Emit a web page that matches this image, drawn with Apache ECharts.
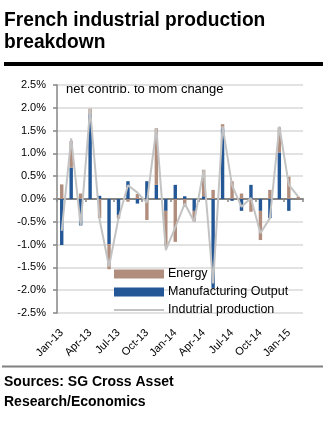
<!DOCTYPE html>
<html>
<head>
<meta charset="utf-8">
<script src="https://cdn.jsdelivr.net/npm/echarts@6/dist/echarts.min.js"></script>
<style>
html,body{margin:0;padding:0;background:#fff;}
#c{width:327px;height:428px;}
</style>
</head>
<body>
<div id="c"></div>
<script>
var months = ['Jan-13','Feb-13','Mar-13','Apr-13','May-13','Jun-13','Jul-13','Aug-13','Sep-13','Oct-13','Nov-13','Dec-13',
  'Jan-14','Feb-14','Mar-14','Apr-14','May-14','Jun-14','Jul-14','Aug-14','Sep-14','Oct-14','Nov-14','Dec-14',
  'Jan-15','Feb-15'];
var energy = [0.32,0.58,0.12,0.12,-0.42,-0.55,-0.08,-0.06,0.11,-0.46,1.24,-0.77,
  -0.94,-0.17,-0.23,0.58,0.20,0.09,0.39,0.12,-0.28,-0.64,0.20,0.55,
  0.49,0.05];
var manufacturing = [-1.01,0.69,-0.58,1.86,0.07,-0.99,-0.35,0.39,-0.10,0.39,0.31,-0.26,
  0.31,0.06,-0.26,0.06,-1.95,1.55,-0.04,-0.26,0.31,-0.26,-0.42,1.02,
  -0.26,0.00];
var industrial = [-0.70,1.33,-0.58,1.97,-0.45,-1.48,-0.42,0.30,0.14,-0.08,1.55,-1.12,
  -0.62,-0.10,-0.50,0.64,-1.85,1.60,0.30,-0.17,0.02,-0.75,-0.42,1.59,
  0.31,0.05];
var yTicks = [-2.5,-2.0,-1.5,-1.0,-0.5,0.0,0.5,1.0,1.5,2.0,2.5];

var seriesNames = ['Energy','Manufacturing Output','Indutrial production'];
var colors = {energy:'#B08D7D', mfg:'#245796', ip:'#C3C3C3'};
var FONT = 'Liberation Sans, Arial, sans-serif';

var chart = echarts.init(document.getElementById('c'), null, {renderer:'canvas'});
chart.setOption({
  animation:false,
  backgroundColor:'#fff',
  grid:{left:57, right:24, top:85, bottom:115, containLabel:false},
  legend:{
    data:[{name:seriesNames[0], icon:'rect'},{name:seriesNames[1], icon:'rect'},
          {name:seriesNames[2], itemStyle:{opacity:0}}],
    orient:'vertical', left:108, top:262,
    itemWidth:50, itemHeight:9, itemGap:4,
    textStyle:{fontFamily:FONT, fontSize:12.5, color:'#000', lineHeight:14, padding:[0,0,0,-1]},
    selectedMode:false
  },
  graphic:[
    {type:'text', left:4, top:10, style:{text:'French industrial production', font:'bold 20px '+FONT, fill:'#000'}, scaleX:0.96},
    {type:'text', left:4, top:32, style:{text:'breakdown', font:'bold 20px '+FONT, fill:'#000'}, scaleX:0.96},
    {type:'rect', shape:{x:4, y:62, width:319, height:4}, style:{fill:'#000'}},
    {type:'text', left:66, top:83, style:{text:'net contrib. to mom change', font:'13px '+FONT, fill:'#000'}},
    {type:'rect', shape:{x:2, y:365.5, width:321, height:2}, style:{fill:'#808080'}},
    {type:'text', left:4, top:375, style:{text:'Sources: SG Cross Asset', font:'bold 14px '+FONT, fill:'#000'}},
    {type:'text', left:4, top:395, style:{text:'Research/Economics', font:'bold 14px '+FONT, fill:'#000'}}
  ],
  xAxis:[
    {type:'category', data:months, position:'bottom', gridIndex:0,
     axisLine:{show:false, onZero:false}, axisTick:{show:false},
     axisLabel:{interval:2, rotate:45, fontFamily:FONT, fontSize:11, color:'#000', margin:18},
     splitLine:{show:false}},
    {type:'category', data:months, position:'top', gridIndex:0,
     axisLine:{show:true, onZero:true, lineStyle:{color:'#868686', width:2}},
     axisTick:{show:true, interval:2, inside:true, length:3, lineStyle:{color:'#868686', width:1.5}},
     axisLabel:{show:false}, splitLine:{show:false}}
  ],
  yAxis:{
    type:'value', min:yTicks[0], max:yTicks[yTicks.length-1], interval:0.5,
    axisLine:{show:true, onZero:false, lineStyle:{color:'#868686', width:1.5}},
    axisTick:{show:true, length:4, lineStyle:{color:'#868686', width:1.5}},
    axisLabel:{fontFamily:FONT, fontSize:11, color:'#000', margin:11,
      formatter:function(v){return v.toFixed(1)+'%';}},
    splitLine:{show:true, lineStyle:{color:'#D9D9D9', width:1.5}}
  },
  series:[
    {name:seriesNames[1], type:'bar', stack:'contrib', data:manufacturing, barWidth:3.4,
     itemStyle:{color:colors.mfg}, z:2},
    {name:seriesNames[0], type:'bar', stack:'contrib', data:energy, barWidth:3.4,
     itemStyle:{color:colors.energy}, z:2},
    {name:seriesNames[2], type:'line', data:industrial, symbol:'none', showSymbol:false,
     lineStyle:{color:colors.ip, width:2}, itemStyle:{color:colors.ip}, z:3}
  ]
});
</script>
</body>
</html>
